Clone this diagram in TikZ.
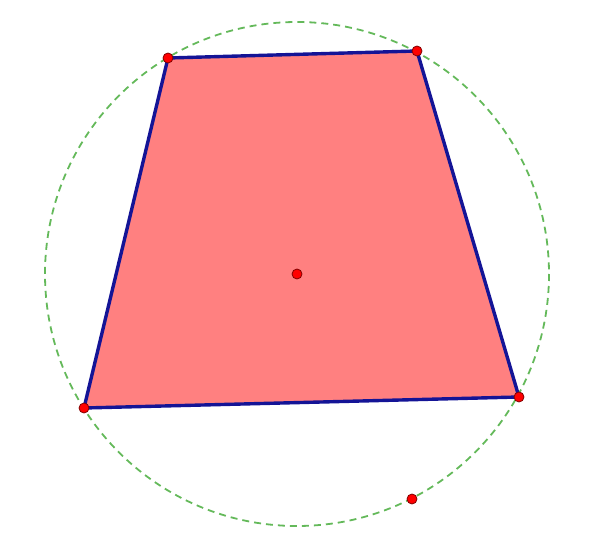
\documentclass[tikz,border=0pt]{standalone}
\definecolor{edgeblue}{RGB}{20,20,150}
\definecolor{circgreen}{RGB}{100,185,90}
\definecolor{quadfill}{RGB}{255,128,128}
\begin{document}
\begin{tikzpicture}[x=1pt,y=-1pt,
  pt/.style={circle,fill=red,draw=red!50!black,line width=0.8pt,inner sep=0pt,minimum size=10pt},
  edge/.style={draw=edgeblue,line width=3.4pt,line join=round},
  circ/.style={draw=circgreen,dash pattern=on 7pt off 5pt,line width=1.8pt}]
\useasboundingbox (0,0) rectangle (600,540);
\coordinate (A) at (168,58);
\coordinate (B) at (417,51);
\coordinate (C) at (519,397);
\coordinate (D) at (84,408);
\coordinate (O) at (297,274);
\draw[circ] (O) circle[radius=252];
\fill[quadfill] (A) -- (B) -- (C) -- (D) -- cycle;
\draw[edge] (A) -- (B) -- (C) -- (D) -- cycle;
\node[pt] (nA) at (A) {};
\node[pt] (nB) at (B) {};
\node[pt] (nC) at (C) {};
\node[pt] (nD) at (D) {};
\node[pt] (nO) at (O) {};
\node[pt] (nP) at (412,499) {};
\end{tikzpicture}
\end{document}
